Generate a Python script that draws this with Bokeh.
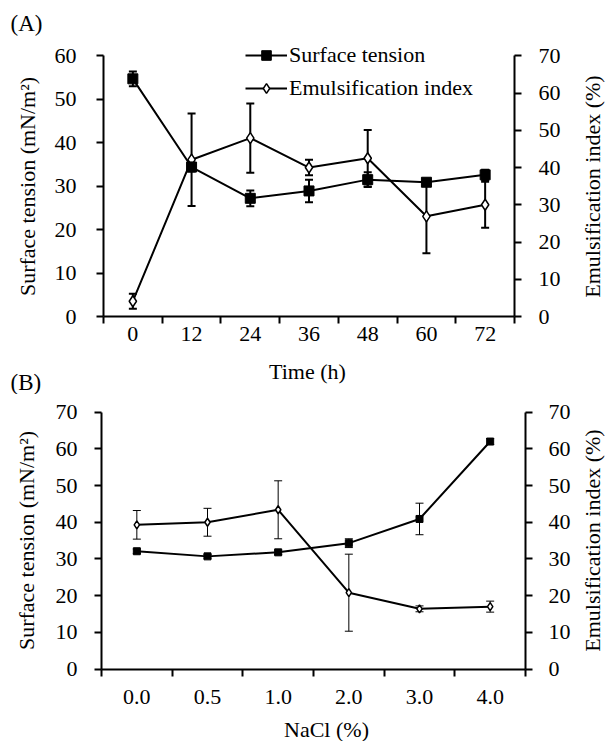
import math
from bokeh.plotting import figure
from bokeh.models import (Range1d, LinearAxis, FixedTicker, SingleIntervalTicker,
                          Legend, LegendItem, Label, ColumnDataSource)
from bokeh.layouts import column
from bokeh.embed import file_html
from bokeh.resources import INLINE

FONT = "Liberation Serif"
FS = "22px"

# ---------------- Panel A data ----------------
time_labels = ["0", "12", "24", "36", "48", "60", "72"]
tension_a = [54.7, 34.4, 27.2, 28.9, 31.5, 30.9, 32.6]
tension_a_err = [1.7, 1.0, 1.8, 2.6, 1.7, 0.8, 1.2]
emuls_a = [4.1, 42.1, 47.9, 40.0, 42.5, 26.9, 30.0]
emuls_a_err = [2.0, 12.4, 9.3, 2.1, 7.6, 9.9, 6.2]

# ---------------- Panel B data ----------------
nacl_labels = ["0.0", "0.5", "1.0", "2.0", "3.0", "4.0"]
tension_b = [32.1, 30.7, 31.8, 34.3, 40.9, 62.0]
tension_b_err = [0.6, 0.5, 0.6, 1.2, 4.3, 0.8]
emuls_b = [39.3, 40.0, 43.4, 20.8, 16.4, 17.0]
emuls_b_err = [3.9, 3.8, 7.9, 10.5, 0.8, 1.5]

W = 606


def style_axis(ax, lab_so):
    ax.axis_line_width = 2
    ax.axis_line_color = "black"
    ax.major_tick_line_width = 2
    ax.major_tick_line_color = "black"
    ax.major_tick_in = 0
    ax.major_tick_out = 7
    ax.minor_tick_line_color = None
    ax.major_label_text_font = FONT
    ax.major_label_text_font_size = FS
    ax.major_label_text_color = "black"
    ax.major_label_standoff = lab_so


def text(p, txt, sx, sy, H, angle=0.0, align="center", size=FS):
    # sx, sy: pixel position from the canvas top-left (frame fills the canvas)
    p.add_layout(Label(x=sx, y=H - sy, x_units="screen", y_units="screen", text=txt,
                       angle=angle, text_align=align, text_baseline="middle",
                       text_font=FONT, text_font_size=size, text_color="black"))


def build(labels, ten, ten_err, emu, emu_err, left_max, right_max, H, geom, so,
          sq_size, dia_size, eb_width):
    # geom: pixel positions of the axes inside this canvas
    x_left, x_right, y_top, y_zero = geom
    n = len(labels)
    idx = list(range(n))
    cw = (x_right - x_left) / n
    ppu_l = (y_zero - y_top) / left_max
    ppu_r = (y_zero - y_top) / right_max
    p = figure(width=W, height=H, title=None,
               x_range=Range1d(-0.5 - x_left / cw, n - 0.5 + (W - x_right) / cw),
               y_range=Range1d(-(H - y_zero) / ppu_l, y_zero / ppu_l),
               output_backend="svg", toolbar_location=None,
               min_border_left=0, min_border_right=0, min_border_top=0, min_border_bottom=0)
    p.extra_y_ranges = {"ei": Range1d(-(H - y_zero) / ppu_r, y_zero / ppu_r)}
    p.xgrid.visible = False
    p.ygrid.visible = False
    p.outline_line_color = None
    p.background_fill_color = "white"
    p.border_fill_color = "white"

    src = ColumnDataSource(dict(
        x=idx, st=ten,
        st_lo=[v - e for v, e in zip(ten, ten_err)],
        st_hi=[v + e for v, e in zip(ten, ten_err)],
        ei=emu,
        ei_lo=[v - e for v, e in zip(emu, emu_err)],
        ei_hi=[v + e for v, e in zip(emu, emu_err)],
    ))

    # emulsification index (right axis)
    p.segment(x0="x", y0="ei_lo", x1="x", y1="ei_hi", source=src, y_range_name="ei",
              line_color="black", line_width=eb_width)
    for col in ("ei_lo", "ei_hi"):
        p.scatter(x="x", y=col, source=src, y_range_name="ei", marker="dash", size=8,
                  line_color="black", line_width=eb_width)
    ei_line = p.line("x", "ei", source=src, y_range_name="ei", line_color="black", line_width=2)
    ei_pts = p.scatter("x", "ei", source=src, y_range_name="ei", marker="diamond",
                       size=dia_size, fill_color="white", line_color="black", line_width=1.5)

    # surface tension (left axis)
    p.segment(x0="x", y0="st_lo", x1="x", y1="st_hi", source=src,
              line_color="black", line_width=eb_width)
    for col in ("st_lo", "st_hi"):
        p.scatter(x="x", y=col, source=src, marker="dash", size=8,
                  line_color="black", line_width=eb_width)
    st_line = p.line("x", "st", source=src, line_color="black", line_width=2)
    st_pts = p.scatter("x", "st", source=src, marker="square", size=sq_size,
                       fill_color="black", line_color="black")

    # x axis: labels centred in categories, tick marks at category boundaries
    xa = p.xaxis[0]
    style_axis(xa, so[2])
    xa.fixed_location = 0
    xa.bounds = (-0.5, n - 0.5)
    xa.ticker = FixedTicker(ticks=idx, minor_ticks=[i - 0.5 for i in range(n + 1)])
    xa.major_label_overrides = {i: lab for i, lab in enumerate(labels)}
    xa.major_tick_line_color = None
    xa.minor_tick_line_color = "black"
    xa.minor_tick_line_width = 2
    xa.minor_tick_in = 0
    xa.minor_tick_out = 7

    ya = p.yaxis[0]
    style_axis(ya, so[0])
    ya.fixed_location = -0.5
    ya.bounds = (0, left_max)
    ya.ticker = SingleIntervalTicker(interval=10)

    ra = LinearAxis(y_range_name="ei", ticker=SingleIntervalTicker(interval=10),
                    bounds=(0, right_max), fixed_location=n - 0.5)
    style_axis(ra, so[1])
    p.add_layout(ra, "right")
    return p, (st_line, st_pts, ei_line, ei_pts)


# ---------------- Panel A ----------------
HA = 394
pA, (st_line, st_pts, ei_line, ei_pts) = build(
    time_labels, tension_a, tension_a_err, emuls_a, emuls_a_err, 60, 70, HA,
    geom=(103, 514, 55.3, 316), so=(20, 17, 3), sq_size=10, dia_size=11, eb_width=2)
text(pA, "(A)", 10, 23, HA, align="left", size="23px")
text(pA, "(B)", 10, 382, HA, align="left", size="23px")
text(pA, "Surface tension (mN/m\u00b2)", 27, 186, HA, angle=math.pi / 2)
text(pA, "Emulsification index (%)", 592, 186, HA, angle=math.pi / 2)
text(pA, "Time (h)", 307, 371, HA)
lg = Legend(items=[LegendItem(label="Surface tension", renderers=[st_line, st_pts]),
                   LegendItem(label="Emulsification index", renderers=[ei_line, ei_pts])],
            location=(245, HA - 101.2), orientation="vertical", padding=0, margin=0,
            spacing=7, glyph_width=42, glyph_height=24, label_height=24,
            label_standoff=2, label_text_font=FONT, label_text_font_size=FS,
            label_text_color="black", border_line_color=None, background_fill_alpha=0)
pA.add_layout(lg)

# ---------------- Panel B ----------------
HB = 741 - HA
pB, _ = build(
    nacl_labels, tension_b, tension_b_err, emuls_b, emuls_b_err, 70, 70, HB,
    geom=(101, 525, 411.7 - HA, 668.5 - HA), so=(17, 16, 14), sq_size=7, dia_size=8,
    eb_width=1)
text(pB, "Surface tension (mN/m\u00b2)", 25.5, 540 - HA, HB, angle=math.pi / 2)
text(pB, "Emulsification index (%)", 592, 540 - HA, HB, angle=math.pi / 2)
text(pB, "NaCl (%)", 326, 729 - HA, HB)

layout = column(pA, pB)
open("out.html", "w").write(file_html(layout, INLINE))
